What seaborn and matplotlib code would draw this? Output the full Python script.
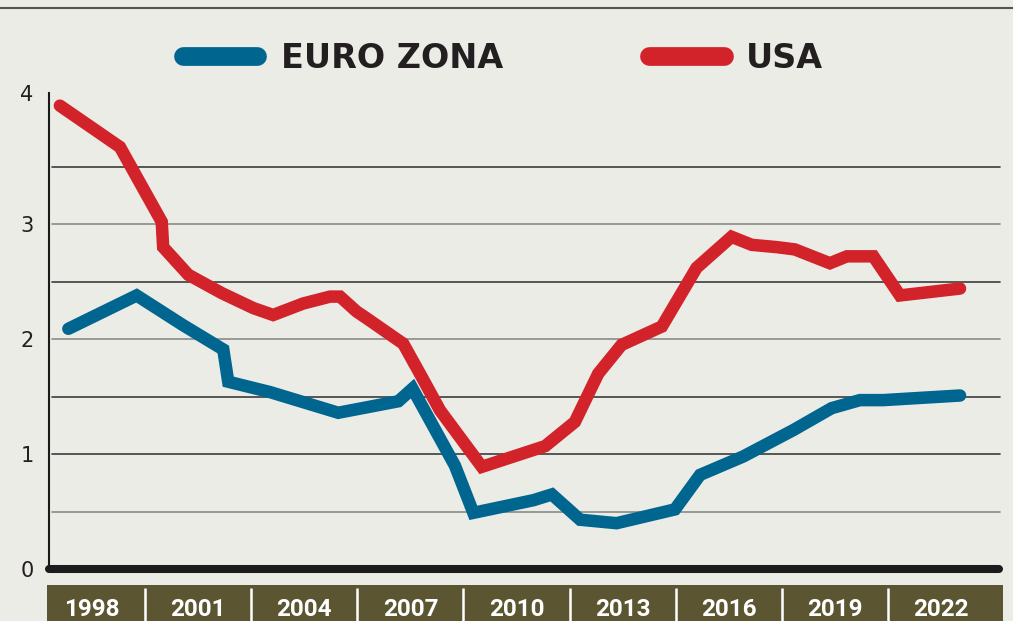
import numpy as np
import pandas as pd
import matplotlib
matplotlib.use("Agg")
import matplotlib.pyplot as plt
import seaborn as sns
from matplotlib.lines import Line2D

# ---------------- data ----------------
usa_years = [1998.59, 2000.29, 2001.47, 2001.51, 2002.22, 2003.17, 2004.06, 2004.62,
             2005.47, 2006.23, 2006.51, 2006.98, 2007.27, 2008.30, 2008.77, 2009.34,
             2010.52, 2012.31, 2013.15, 2013.81, 2014.47, 2015.61, 2016.59, 2017.58,
             2018.15, 2018.86, 2019.37, 2020.36, 2020.84, 2021.59, 2022.34, 2024.04]
usa_values = [4.03, 3.67, 3.02, 2.80, 2.56, 2.40, 2.27, 2.21,
              2.31, 2.37, 2.37, 2.24, 2.18, 1.96, 1.70, 1.38,
              0.89, 1.07, 1.28, 1.70, 1.95, 2.11, 2.62, 2.89,
              2.82, 2.80, 2.78, 2.66, 2.72, 2.72, 2.38, 2.44]

euro_years = [1998.83, 2000.76, 2002.08, 2003.21, 2003.35, 2004.53, 2006.46, 2008.16,
              2008.56, 2009.76, 2010.28, 2011.98, 2012.50, 2013.30, 2014.33, 2015.98,
              2016.69, 2017.91, 2019.33, 2020.41, 2021.21, 2021.87, 2024.04]
euro_values = [2.09, 2.38, 2.12, 1.91, 1.63, 1.54, 1.36, 1.46,
               1.57, 0.90, 0.49, 0.60, 0.65, 0.43, 0.40, 0.52,
               0.82, 0.98, 1.21, 1.40, 1.47, 1.47, 1.51]

series_names = ["EURO ZONA", "USA"]
period_labels = ["1998", "2001", "2004", "2007", "2010", "2013", "2016", "2019", "2022"]
period_starts = [1998, 2001, 2004, 2007, 2010, 2013, 2016, 2019, 2022]
ytick_labels = ["0", "1", "2", "3", "4"]

df = pd.concat([
    pd.DataFrame({"year": euro_years, "value": euro_values, "series": series_names[0]}),
    pd.DataFrame({"year": usa_years, "value": usa_values, "series": series_names[1]}),
], ignore_index=True)

# ---------------- style ----------------
BG = "#ecece6"
BLUE = "#006690"
RED = "#d2232a"
BAND = "#5b5631"
INK = "#231f20"

sns.set_style("white")
plt.rcParams["font.family"] = ["DejaVu Sans"]

W, H = 1013, 621
def fx(px): return px / W
def fy(py): return 1 - py / H
def yr(px): return 1998 + (px - 39) / 35.37

fig = plt.figure(figsize=(W / 100, H / 100), dpi=100, facecolor=BG)

# main axes
ax = fig.add_axes([fx(49), fy(569.2), (1003 - 49) / W, (569.2 - 93) / H])
ax.set_facecolor(BG)
ax.set_xlim(yr(49), yr(1003))
YTOP = 4.14
ax.set_ylim(0, YTOP)

# grid lines
grid_levels = [0.5, 1.0, 1.5, 2.0, 2.5, 3.0, 3.5]
grid_colors = ["#8a8a8a", "#3c3c3c", "#3c3c3c", "#8a8a8a", "#3c3c3c", "#8a8a8a", "#3c3c3c"]
for g, c in zip(grid_levels, grid_colors):
    ax.axhline(g, xmin=3 / 954, xmax=951 / 954, color=c, lw=1.2, zorder=0.5)

sns.lineplot(data=df, x="year", y="value", hue="series", hue_order=series_names,
             palette={series_names[0]: BLUE, series_names[1]: RED},
             linewidth=9, estimator=None, sort=False, legend=False, ax=ax)
for ln in ax.lines:
    if ln.get_linewidth() > 5:
        ln.set_solid_capstyle("round")
        ln.set_solid_joinstyle("miter")

# thick zero line
ax.axhline(0, xmin=0, xmax=(999 - 49) / 954, color="#1c1c1c", lw=5.8,
           solid_capstyle="round", clip_on=False, zorder=4)

for s in ["top", "right", "bottom"]:
    ax.spines[s].set_visible(False)
ax.spines["left"].set_color("#1a1a1a")
ax.spines["left"].set_linewidth(1.5)
ax.set_xticks([])
ax.set_yticks([0, 1, 2, 3, YTOP])
ax.set_yticklabels(ytick_labels)
ax.tick_params(axis="y", length=0, pad=11, labelsize=15, labelcolor=INK)
ax.set_xlabel("")
ax.set_ylabel("")

# year band
bx = fig.add_axes([fx(47), 0, (1003 - 47) / W, (621 - 585) / H])
bx.set_facecolor(BAND)
bx.set_xlim(yr(47), yr(1003))
bx.set_ylim(0, 1)
for s in bx.spines.values():
    s.set_visible(False)
bx.set_xticks([])
bx.set_yticks([])
bx.vlines(period_starts[1:], 0, (621 - 587.5) / 36, color="white", lw=1.8)
for start, lab in zip(period_starts, period_labels):
    bx.text(start + 1.5, (621 - 615.5) / 36, lab, ha="center", va="baseline", color="white",
            fontsize=17.5, fontweight="bold", family=["Roboto", "DejaVu Sans"])

# legend
fig.add_artist(Line2D([fx(182.5), fx(256.5)], [fy(56), fy(56)], lw=13.5, color=BLUE,
                      solid_capstyle="round"))
fig.add_artist(Line2D([fx(649), fx(723.5)], [fy(56), fy(56)], lw=13.5, color=RED,
                      solid_capstyle="round"))
fig.text(fx(281), fy(68.3), series_names[0], ha="left", va="baseline", fontsize=24,
         fontweight="bold", color=INK)
fig.text(fx(746), fy(68.3), series_names[1], ha="left", va="baseline", fontsize=24,
         fontweight="bold", color=INK)

# top rule
fig.add_artist(Line2D([0, 1], [fy(7.5), fy(7.5)], color="#555555", lw=1.5))

fig.savefig("out.png", dpi=100, facecolor=BG)
